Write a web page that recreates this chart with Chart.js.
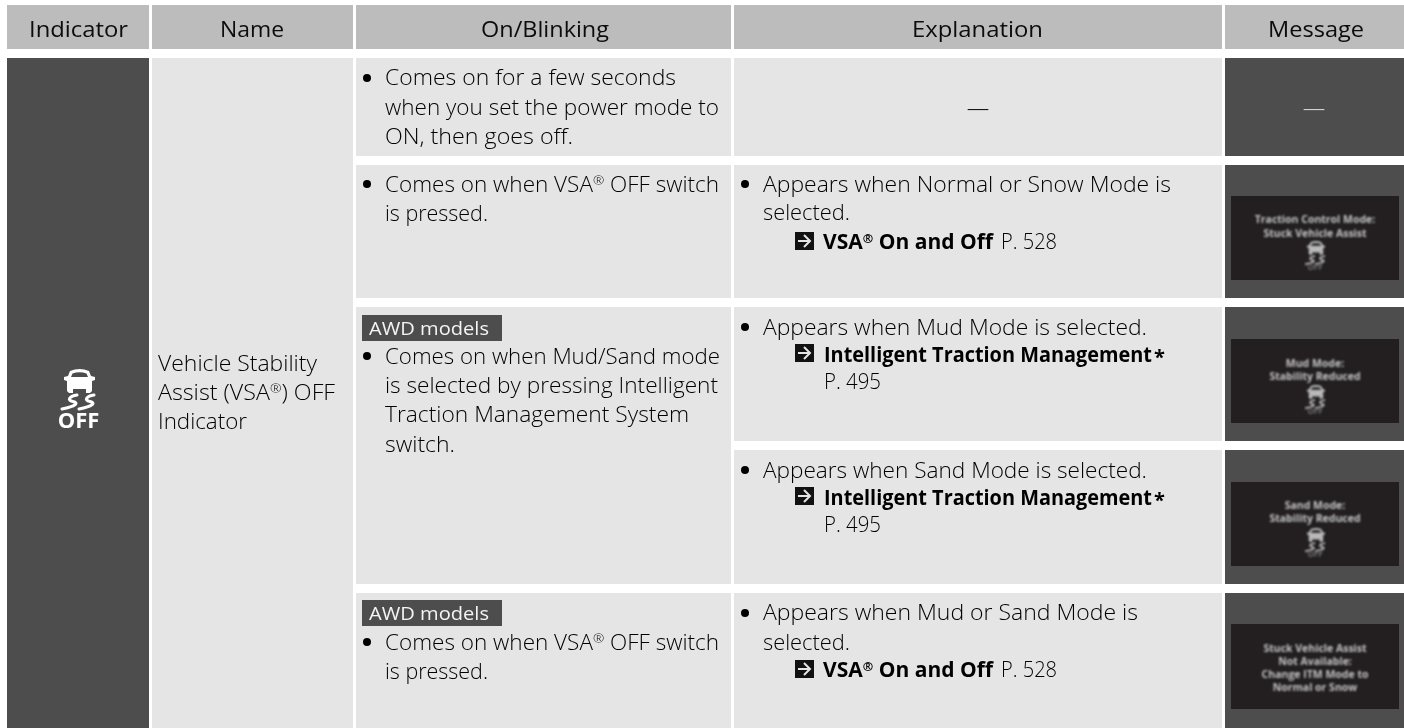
<!DOCTYPE html>
<html>
<head>
<meta charset="utf-8">
<title>VSA OFF Indicator</title>
<script src="https://cdn.jsdelivr.net/npm/chart.js@4"></script>
<style>
  html, body { margin: 0; padding: 0; background: #fff; overflow: hidden; }
  canvas { display: block; }
</style>
</head>
<body>
<canvas id="tabela" width="1404" height="728"></canvas>
<script>
// Table content
const headers = ['Indicator', 'Name', 'On/Blinking', 'Explanation', 'Message'];
const indicatorName = ['Vehicle Stability', 'Assist (VSA®) OFF', 'Indicator'];
const tagLabel = 'AWD models';
const dash = '—';

const onRow1 = ['Comes on for a few seconds', 'when you set the power mode to', 'ON, then goes off.'];
const onRow2 = ['Comes on when VSA® OFF switch', 'is pressed.'];
const onRow3 = ['Comes on when Mud/Sand mode', 'is selected by pressing Intelligent', 'Traction Management System', 'switch.'];
const onRow4 = ['Comes on when VSA® OFF switch', 'is pressed.'];

const explRow2 = ['Appears when Normal or Snow Mode is', 'selected.'];
const explRow3 = ['Appears when Mud Mode is selected.'];
const explRow4 = ['Appears when Sand Mode is selected.'];
const explRow5 = ['Appears when Mud or Sand Mode is', 'selected.'];

const msgTraction = ['Traction Control Mode:', 'Stuck Vehicle Assist'];
const msgMud = ['Mud Mode:', 'Stability Reduced'];
const msgSand = ['Sand Mode:', 'Stability Reduced'];
const msgStuck = ['Stuck Vehicle Assist', 'Not Available:', 'Change ITM Mode to', 'Normal or Snow'];

// Grid of the table, in axis units
const colSpans = [[7, 149], [152, 353], [356, 731], [734, 1222], [1225, 1404]];
const headerSpan = [5, 49];
const bodySpan = [58, 728];
const rowSpans = [[58, 156], [165, 298], [307, 441], [450, 584], [593, 728]];
const mergedRowSpan = [307, 584];
const screenCol = [1231, 1399];
const screenRows = [[196, 280], [339, 423], [482, 566], [624, 709]];
const tagCol = [362, 502];
const tagRows = [[315, 341], [600, 626]];
const headerCenters = [78.5, 252, 545, 977.5, 1316];
const headerWidths = [99, 64, 128, 131, 96];

const GREY_HEAD = '#bcbcbc';
const GREY_CELL = '#e5e5e5';
const GREY_DARK = '#4d4d4d';
const SCREEN = '#231f20';
const INK = '#000';
const FONT = '"Open Sans"';

// each cell is one floating bar
function cell(col, rows, color) {
    return {
        data: [{ x: (col[0] + col[1]) / 2, y: rows }],
        barThickness: col[1] - col[0],
        backgroundColor: color,
        borderWidth: 0,
        inflateAmount: 0,
        grouped: false
    };
}

// chart.js paints the first dataset last, so the overlays go in first
const datasets = [];
screenRows.forEach(r => datasets.push(cell(screenCol, r, SCREEN)));
tagRows.forEach(r => datasets.push(cell(tagCol, r, GREY_DARK)));
colSpans.forEach(c => datasets.push(cell(c, headerSpan, GREY_HEAD)));
datasets.push(cell(colSpans[0], bodySpan, GREY_DARK));
datasets.push(cell(colSpans[1], bodySpan, GREY_CELL));
[rowSpans[0], rowSpans[1], mergedRowSpan, rowSpans[4]].forEach(r => datasets.push(cell(colSpans[2], r, GREY_CELL)));
rowSpans.forEach(r => {
    datasets.push(cell(colSpans[3], r, GREY_CELL));
    datasets.push(cell(colSpans[4], r, GREY_DARK));
});

// Draws a line squeezed to the width it has in the manual, ® goes up small
function fitText(ctx, text, x, y, width) {
    const font = ctx.font;
    const size = parseFloat(font.match(/([\d.]+)px/)[1]);
    const small = font.replace(/[\d.]+px/, (size * 0.6) + 'px');
    const parts = text.split('®');
    const measure = () => {
        let w = 0;
        parts.forEach((p, i) => {
            ctx.font = font;
            w += ctx.measureText(p).width;
            if (i < parts.length - 1) {
                ctx.font = small;
                w += ctx.measureText('®').width;
            }
        });
        return w;
    };
    const total = measure();
    ctx.save();
    ctx.translate(x, y);
    ctx.scale(width ? width / total : 1, 1);
    let cx = 0;
    parts.forEach((p, i) => {
        ctx.font = font;
        ctx.fillText(p, cx, 0);
        cx += ctx.measureText(p).width;
        if (i < parts.length - 1) {
            ctx.font = small;
            ctx.fillText('®', cx, -size * 0.3);
            cx += ctx.measureText('®').width;
        }
    });
    ctx.restore();
    ctx.font = font;
}

function carIcon(ctx, x, y, k, color, back) {
    ctx.save();
    ctx.translate(x, y);
    ctx.scale(k, k);
    ctx.fillStyle = color;
    ctx.strokeStyle = color;
    ctx.beginPath();
    ctx.moveTo(6, 2);
    ctx.quadraticCurveTo(15.5, -2, 25, 2);
    ctx.lineTo(27, 7);
    ctx.lineTo(31, 8);
    ctx.lineTo(31, 11);
    ctx.lineTo(28, 12);
    ctx.lineTo(28, 22);
    ctx.lineTo(26, 24);
    ctx.lineTo(22, 24);
    ctx.lineTo(22, 20);
    ctx.lineTo(9, 20);
    ctx.lineTo(9, 24);
    ctx.lineTo(5, 24);
    ctx.lineTo(3, 22);
    ctx.lineTo(3, 12);
    ctx.lineTo(0, 11);
    ctx.lineTo(0, 8);
    ctx.lineTo(4, 7);
    ctx.closePath();
    ctx.fill();
    ctx.fillStyle = back;
    ctx.beginPath();
    ctx.moveTo(8.5, 4.5);
    ctx.quadraticCurveTo(15.5, 2, 22.5, 4.5);
    ctx.lineTo(24, 8);
    ctx.lineTo(7, 8);
    ctx.closePath();
    ctx.fill();
    // skid marks
    ctx.lineWidth = 3;
    ctx.lineCap = 'round';
    [0, 17].forEach(o => {
        ctx.beginPath();
        ctx.moveTo(13 + o, 26);
        ctx.bezierCurveTo(6 + o, 27, 2 + o, 31, 9 + o, 32.5);
        ctx.bezierCurveTo(15 + o, 34, 12 + o, 37, -2 + o, 40);
        ctx.stroke();
    });
    ctx.restore();
}

function arrowBox(ctx, x, y) {
    ctx.fillStyle = '#111';
    ctx.fillRect(x, y, 19, 18);
    ctx.strokeStyle = '#e5e5e5';
    ctx.lineWidth = 2;
    ctx.beginPath();
    ctx.moveTo(x + 3, y + 9);
    ctx.lineTo(x + 15, y + 9);
    ctx.moveTo(x + 9, y + 3);
    ctx.lineTo(x + 15, y + 9);
    ctx.lineTo(x + 9, y + 15);
    ctx.stroke();
}

// Text layer, placed through the chart scales
const tablePlugin = {
    id: 'tabelaTexto',
    afterDatasetsDraw(chart) {
        const ctx = chart.ctx;
        const X = v => chart.scales.x.getPixelForValue(v);
        const Y = v => chart.scales.y.getPixelForValue(v);
        ctx.save();
        ctx.textBaseline = 'alphabetic';
        ctx.textAlign = 'left';
        const body = '300 22.5px ' + FONT;
        const head = '400 22.5px ' + FONT;
        const bold = '700 21.5px ' + FONT;

        // header row
        ctx.font = head;
        ctx.fillStyle = '#0c0c0c';
        headers.forEach((h, i) => fitText(ctx, h, X(headerCenters[i] - headerWidths[i] / 2), Y(37), headerWidths[i]));

        const block = (lines, x, ys, ws) => lines.forEach((t, i) => fitText(ctx, t, X(x), Y(ys[i]), ws[i]));
        const bullet = (x, y) => {
            ctx.beginPath();
            ctx.arc(X(x), Y(y), 4, 0, Math.PI * 2);
            ctx.fill();
        };

        ctx.font = body;
        ctx.fillStyle = INK;
        block(indicatorName, 158, [371, 400, 429], [159, 177, 89]);

        // On/Blinking
        bullet(367, 78); block(onRow1, 385, [85, 115, 144], [291, 334, 188]);
        bullet(367, 184); block(onRow2, 385, [192, 221], [334, 103]);
        bullet(367, 356); block(onRow3, 385, [364, 393, 422, 452], [335, 333, 304, 70]);
        bullet(367, 642); block(onRow4, 385, [650, 679], [334, 103]);

        // Explanation
        bullet(745, 184); block(explRow2, 763, [192, 220], [408, 87]);
        bullet(745, 327); block(explRow3, 763, [335], [384]);
        bullet(745, 470); block(explRow4, 763, [478], [384]);
        bullet(745, 613); block(explRow5, 763, [620, 650], [375, 87]);

        ctx.textAlign = 'center';
        ctx.fillText(dash, X(978), Y(116));
        ctx.fillStyle = '#ddd';
        ctx.fillText(dash, X(1314), Y(116));
        ctx.textAlign = 'left';

        // cross references
        const refVsa = (boxY, y) => {
            arrowBox(ctx, X(795), Y(boxY));
            ctx.fillStyle = INK;
            ctx.font = bold;
            fitText(ctx, 'VSA® On and Off', X(823), Y(y), 170);
            ctx.font = body;
            fitText(ctx, 'P. 528', X(1001), Y(y), 56);
        };
        const refItm = (boxY, y) => {
            arrowBox(ctx, X(795), Y(boxY));
            ctx.fillStyle = INK;
            ctx.font = bold;
            fitText(ctx, 'Intelligent Traction Management', X(824), Y(y), 328);
            ctx.font = 'bold 20px ' + FONT;
            ctx.fillText('*', X(1154), Y(y + 2));
            ctx.font = body;
            fitText(ctx, 'P. 495', X(824), Y(y + 27), 57);
        };
        refVsa(232, 249);
        refItm(344, 362);
        refItm(487, 505);
        refVsa(660, 677);

        // AWD tags
        ctx.fillStyle = '#f4f4f4';
        ctx.font = '19px ' + FONT;
        fitText(ctx, tagLabel, X(369), Y(335), 120);
        fitText(ctx, tagLabel, X(369), Y(620), 120);

        // indicator symbol
        carIcon(ctx, X(64), Y(369), 1, '#fff', GREY_DARK);
        ctx.fillStyle = '#fff';
        ctx.font = 'bold 22px ' + FONT;
        ctx.textAlign = 'center';
        ctx.fillText('OFF', X(78.5), Y(428));

        // blurred message photos
        ctx.filter = 'blur(0.9px)';
        ctx.fillStyle = '#c4c4c4';
        ctx.font = 'bold 10.5px ' + FONT;
        const message = (lines, ys) => lines.forEach((t, i) => ctx.fillText(t, X(1315), Y(ys[i])));
        const smallIcon = (y) => {
            carIcon(ctx, X(1307), Y(y), 0.58, '#b9b9b9', SCREEN);
            ctx.save();
            ctx.fillStyle = '#6e6e6e';
            ctx.font = 'bold 8px ' + FONT;
            ctx.fillText('OFF', X(1315), Y(y + 29));
            ctx.restore();
        };
        message(msgTraction, [223, 237]);
        smallIcon(241);
        message(msgMud, [367, 380]);
        smallIcon(385);
        message(msgSand, [509, 522]);
        smallIcon(528);
        message(msgStuck, [652, 665, 678, 691]);
        ctx.filter = 'none';
        ctx.restore();
    }
};

window.onload = function() {
    const ctx = document.getElementById('tabela').getContext('2d');
    new Chart(ctx, {
        type: 'bar',
        data: { datasets: datasets },
        options: {
            responsive: false,
            animation: false,
            events: [],
            layout: { padding: 0 },
            plugins: { legend: { display: false }, tooltip: { enabled: false } },
            scales: {
                x: { type: 'linear', min: 0, max: 1404, offset: false, display: false },
                y: { type: 'linear', min: 0, max: 728, reverse: true, display: false }
            }
        },
        plugins: [tablePlugin]
    });
};
</script>
</body>
</html>
